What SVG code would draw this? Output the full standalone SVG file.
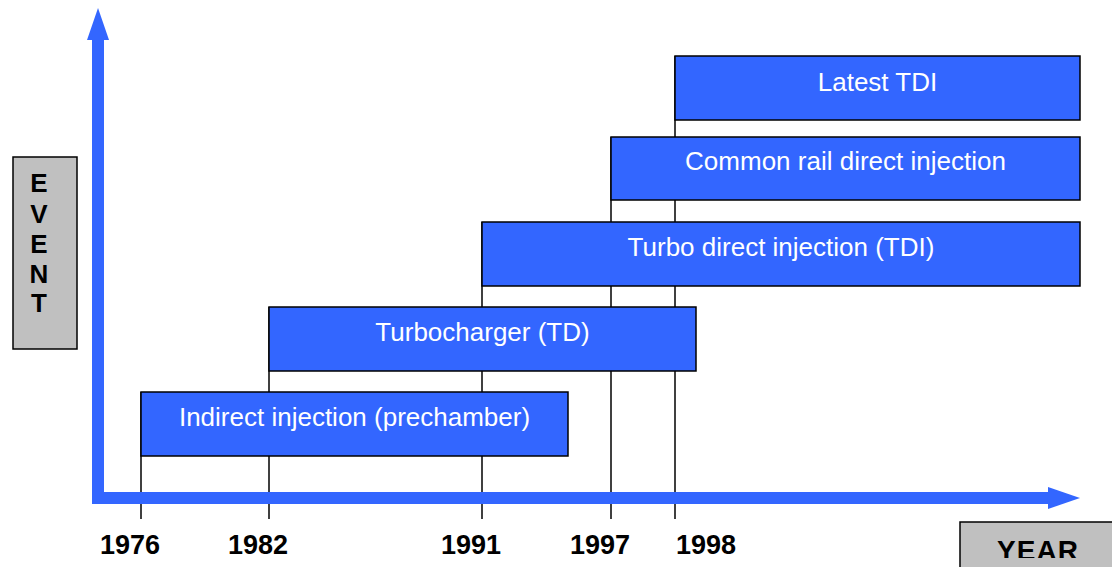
<svg xmlns="http://www.w3.org/2000/svg" width="1112" height="567" viewBox="0 0 1112 567">
<style>
.box{fill:#3366ff;stroke:#000;stroke-width:1.5}
.lbl{font-family:"Liberation Sans",Arial,sans-serif;font-size:26px;fill:#fff;text-anchor:middle}
.yr{font-family:"Liberation Sans",Arial,sans-serif;font-size:27px;font-weight:bold;fill:#000;text-anchor:middle}
.tick{stroke:#000;stroke-width:1.5}
.gray{fill:#c0c0c0;stroke:#000;stroke-width:1.5}
.axis{fill:none;stroke:#3366ff;stroke-width:12;stroke-linejoin:miter}
.head{fill:#3366ff}
.cap{font-family:"Liberation Sans",Arial,sans-serif;font-weight:bold;fill:#000;text-anchor:middle}
</style>
<defs>
<clipPath id="clipYear"><rect x="960" y="522" width="152" height="36"/></clipPath>
</defs>
<rect width="1112" height="567" fill="#fff"/>
<g id="connectors">
<line class="tick" x1="141" y1="392" x2="141" y2="519"/>
<line class="tick" x1="269" y1="307" x2="269" y2="519"/>
<line class="tick" x1="482" y1="222" x2="482" y2="519"/>
<line class="tick" x1="611" y1="137" x2="611" y2="519"/>
<line class="tick" x1="675" y1="56" x2="675" y2="519"/>
<path class="axis" d="M98,38 V498 H1050"/>
<polygon class="head" points="98,8 109,40 87,40"/>
<polygon class="head" points="1080,498 1048,487 1048,509"/>
</g>
<g id="event-label">
<rect class="gray" x="13" y="157" width="64" height="192"/>
<text class="cap" font-size="26" x="39" y="192">E</text>
<text class="cap" font-size="26" x="39" y="223">V</text>
<text class="cap" font-size="26" x="39" y="253">E</text>
<text class="cap" font-size="26" x="39" y="283">N</text>
<text class="cap" font-size="26" x="39" y="312">T</text>
</g>
<g id="year-label">
<rect class="gray" x="960" y="522" width="160" height="60"/>
<text class="cap" font-size="28" x="1038" y="560" letter-spacing="1" clip-path="url(#clipYear)">YEAR</text>
</g>
<g id="node-indirect">
<rect class="box" x="141" y="392" width="427" height="64"/>
<text class="lbl" x="354.5" y="426">Indirect injection (prechamber)</text>
</g>
<g id="node-turbocharger">
<rect class="box" x="269" y="307" width="427" height="64"/>
<text class="lbl" x="482.5" y="341">Turbocharger (TD)</text>
</g>
<g id="node-tdi">
<rect class="box" x="482" y="222" width="598" height="64"/>
<text class="lbl" x="781" y="256">Turbo direct injection (TDI)</text>
</g>
<g id="node-common-rail">
<rect class="box" x="611" y="137" width="469" height="63"/>
<text class="lbl" x="845.5" y="170">Common rail direct injection</text>
</g>
<g id="node-latest">
<rect class="box" x="675" y="56" width="405" height="64"/>
<text class="lbl" x="877.5" y="91">Latest TDI</text>
</g>
<g id="years">
<text class="yr" x="130" y="554">1976</text>
<text class="yr" x="258" y="554">1982</text>
<text class="yr" x="471" y="554">1991</text>
<text class="yr" x="600" y="554">1997</text>
<text class="yr" x="706" y="554">1998</text>
</g>
</svg>
